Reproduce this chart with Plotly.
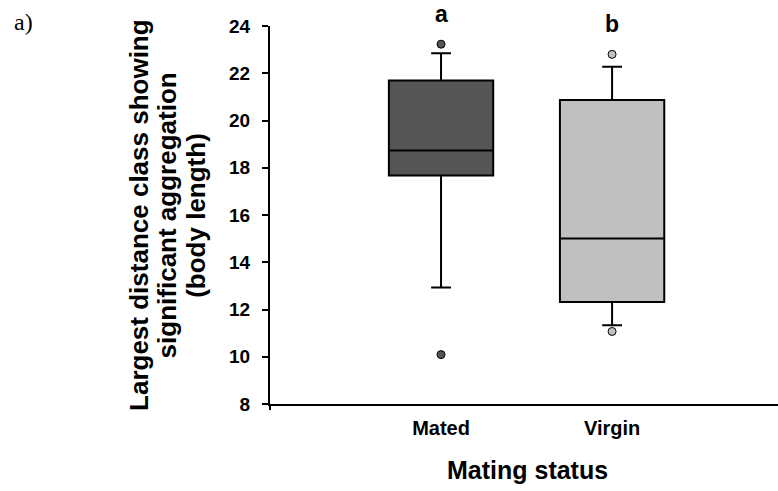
import plotly.graph_objects as go

categories = ["Mated", "Virgin"]
q1 = [17.67, 12.32]
median = [18.73, 15.01]
q3 = [21.69, 20.87]
lower_whisker = [12.93, 11.33]
upper_whisker = [22.85, 22.28]
outliers = [[23.23, 10.09], [22.8, 11.07]]
fills = ["#555555", "#c0c0c0"]
letters = ["a", "b"]
letter_y = [1.031, 1.006]
y_ticks = [8, 10, 12, 14, 16, 18, 20, 22, 24]
y_title_lines = ["Largest distance class showing", "significant aggregation", "(body length)"]
y_title_x = [-0.258, -0.202, -0.146]

font_family = "Liberation Sans, Arial, sans-serif"

fig = go.Figure()
for i, cat in enumerate(categories):
    fig.add_trace(go.Box(
        x=[cat], q1=[q1[i]], median=[median[i]], q3=[q3[i]],
        lowerfence=[lower_whisker[i]], upperfence=[upper_whisker[i]],
        fillcolor=fills[i], line=dict(color="black", width=2),
        width=0.61, whiskerwidth=0.19, boxpoints=False, showlegend=False,
        hoverinfo="skip",
    ))
    fig.add_trace(go.Scatter(
        x=[cat] * len(outliers[i]), y=outliers[i], mode="markers",
        marker=dict(size=8, color=fills[i], line=dict(color="black", width=1)),
        showlegend=False, hoverinfo="skip", cliponaxis=False,
    ))
    fig.add_annotation(x=cat, y=letter_y[i], text="<b>" + letters[i] + "</b>",
                       showarrow=False, xref="x", yref="paper", yanchor="middle",
                       font=dict(family=font_family, size=23, color="black"))

for txt, xp in zip(y_title_lines, y_title_x):
    fig.add_annotation(x=xp, y=0.5, xref="paper", yref="paper", text="<b>" + txt + "</b>",
                       textangle=-90, showarrow=False, xanchor="center", yanchor="middle",
                       font=dict(family=font_family, size=26, color="black"))

fig.add_annotation(x=(527 - 270) / 508, y=-0.175, xref="paper", yref="paper",
                   text="<b>Mating status</b>",
                   showarrow=False, xanchor="center", yanchor="middle",
                   font=dict(family=font_family, size=25, color="black"))

fig.add_annotation(x=-0.508, y=1.011, xref="paper", yref="paper",
                   text="a)", showarrow=False, xanchor="left", yanchor="middle",
                   font=dict(family="Liberation Serif, Times New Roman, serif", size=24, color="black"))

# small tick at the left end of the x axis
fig.add_shape(type="line", xref="paper", yref="paper", x0=0, x1=0, y0=0, y1=-6 / 378,
              line=dict(color="black", width=2))

fig.update_layout(
    width=778, height=491,
    margin=dict(l=270, r=0, t=26, b=87),
    plot_bgcolor="white", paper_bgcolor="white",
    font=dict(family=font_family, color="black"),
    xaxis=dict(
        type="category", range=[-1, 1.97],
        showline=True, linecolor="black", linewidth=2,
        showgrid=False, zeroline=False, ticks="",
        ticklabelstandoff=5,
        tickfont=dict(family=font_family, size=20, color="black", weight="bold"),
    ),
    yaxis=dict(
        range=[8, 24], tickvals=y_ticks,
        showline=True, linecolor="black", linewidth=2,
        showgrid=False, zeroline=False, ticks="outside", ticklen=6, tickwidth=2, tickcolor="black",
        ticklabelstandoff=8,
        tickfont=dict(family=font_family, size=19, color="black", weight="bold"),
    ),
)

fig.write_html("out.html")
